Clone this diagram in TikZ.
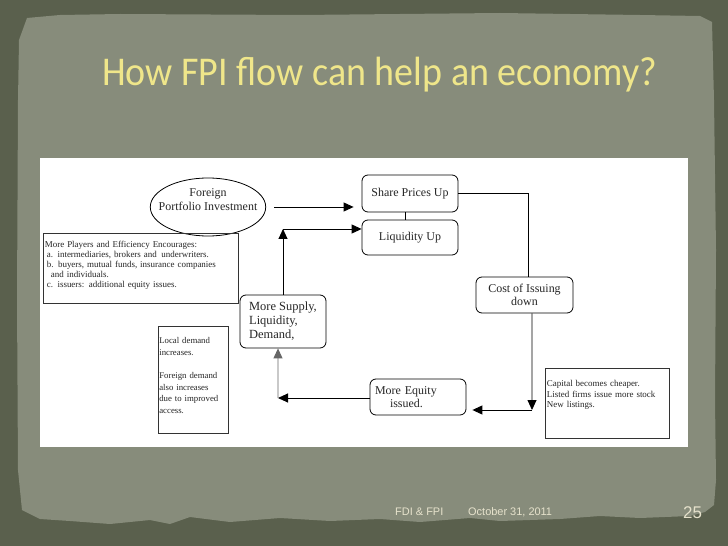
\documentclass[tikz,border=0pt]{standalone}
\usepackage{fontspec}
\setmainfont{Liberation Serif}
\newfontfamily\titlefont{Carlito}
\newfontfamily\footfont{Liberation Sans}
\usetikzlibrary{arrows.meta,shapes.geometric}
\definecolor{outerbg}{HTML}{5A604D}
\definecolor{innerbg}{HTML}{878C7B}
\definecolor{titlecol}{HTML}{EFE68A}
\definecolor{footcol}{HTML}{E6E2CC}
\definecolor{txt}{HTML}{262626}
\tikzset{
  rbox/.style={draw=black, line width=0.8bp, rounded corners=6bp, inner sep=0pt, text=txt, font=\fontsize{12}{13.5}\selectfont},
  sbox/.style={draw=black!80, line width=0.7bp, inner xsep=1.5bp, inner ysep=0pt, text=txt, align=left, anchor=north west},
  arr/.style={draw=black, line width=0.9bp, -{Triangle[length=10bp,width=9bp]}},
  plain/.style={draw=black, line width=0.9bp},
}
\begin{document}
\begin{tikzpicture}[x=1bp,y=-1bp]
\useasboundingbox (0,0) rectangle (728,546);
\fill[outerbg] (0,0) rectangle (728,546);
\fill[innerbg] (27,18) -- (60,15) -- (120,14) -- (300,15) -- (500,13) -- (640,15) -- (700,16) -- (712,22)
  -- (714,100) -- (716,250) -- (715,400) -- (716,480) -- (714,505) -- (705,512) -- (690,516)
  -- (640,518) -- (600,516) -- (560,519) -- (500,521) -- (470,518) -- (420,522) -- (380,519)
  -- (330,521) -- (280,518) -- (230,522) -- (190,517) -- (170,524) -- (150,520) -- (110,524)
  -- (70,521) -- (40,519) -- (22,510) -- (18,470) -- (17,300) -- (18,100) -- (19,40) -- cycle;
% title
\node[anchor=base west, inner sep=0pt, text=titlecol, font=\titlefont\fontsize{41}{41}\selectfont] (title) at (102,86) {\scalebox{0.93}[1]{How FPI flow can help an economy?}};
% white panel
\fill[white] (40,158) rectangle (688,447);
% nodes
\node[draw=black, line width=0.8bp, ellipse, minimum width=115bp, minimum height=58bp, inner xsep=-8.5bp, inner ysep=-3bp, align=center, text=txt, font=\fontsize{12}{13.5}\selectfont] (fpi) at (208,207) {Foreign\\Portfolio Investment\rule[-15bp]{0pt}{0pt}};
\node[rbox, minimum width=96bp, minimum height=37bp] (share) at (410,193.5) {Share Prices Up};
\node[rbox, minimum width=96bp, minimum height=35bp] (liq) at (410,237.5) {Liquidity Up};
\node[rbox, minimum width=97bp, minimum height=36bp, align=center] (cost) at (524.5,295) {Cost of Issuing\\down};
\node[rbox, minimum width=96bp, minimum height=36bp, text width=86bp, align=left] (equity) at (418,397) {More Equity\\\hspace*{15bp}issued.};
\node[rbox, minimum width=86bp, minimum height=53bp, align=left, font=\fontsize{12.5}{14}\selectfont] (supply) at (283,321.5) {More Supply,\\Liquidity,\\Demand,};
\node[sbox, text width=121bp, font=\fontsize{9}{10.8}\selectfont] (capital) at (545,368) {\rule{0pt}{18bp}Capital becomes cheaper.\\Listed firms issue more stock\\New listings.\rule[-30bp]{0pt}{0pt}};
\node[sbox, text width=192bp, font=\fontsize{9}{10}\selectfont] (players) at (43,233) {\rule{0pt}{14bp}More Players and Efficiency Encourages:\\\hspace*{2bp}a. intermediaries, brokers and\, underwriters.\\\hspace*{2bp}b. buyers, mutual funds, insurance companies\\\hspace*{6bp}and individuals.\\\hspace*{2bp}c. issuers: additional equity issues.\rule[-16bp]{0pt}{0pt}};
\node[sbox, text width=68bp, inner xsep=1bp, font=\fontsize{8.8}{11.7}\selectfont] (local) at (158,326) {\rule{0pt}{17bp}Local demand\\increases.\\[11.7bp]Foreign demand\\also increases\\due to improved\\access.\rule[-20bp]{0pt}{0pt}};
% helper coordinates
\coordinate (c1) at (532,410);
\coordinate (c2) at (278,398);
\coordinate (c3) at (283,229);
% connectors
\draw[arr, shorten <=8bp, shorten >=8bp] (fpi.east) -- (fpi.east -| share.west);
\draw[plain] ([xshift=-5bp]share.south) -- ([xshift=-5bp]liq.north);
\draw[plain] (share.east) -| ([xshift=3.5bp]cost.north);
\draw[arr] ([xshift=7.5bp]cost.south) -- (c1);
\draw[arr, shorten >=6bp] (c1) -- (c1 -| equity.east);
\draw[arr] (equity.west |- c2) -- (c2);
\draw[arr, draw=black!60] (c2) -- ([xshift=-5bp]supply.south);
\draw[arr] (supply.north) -- (c3);
\draw[arr] (c3) -- (c3 -| liq.west);
% footer
\node[anchor=base west, inner sep=0pt, text=footcol, font=\footfont\fontsize{11}{11}\selectfont] (f1) at (395,515) {FDI \& FPI};
\node[anchor=base west, inner sep=0pt, text=footcol, font=\footfont\fontsize{11}{11}\selectfont] (f2) at (468,515) {October 31, 2011};
\node[anchor=base west, inner sep=0pt, text=footcol, font=\footfont\fontsize{17}{17}\selectfont] (f3) at (683,518) {25};
\end{tikzpicture}
\end{document}
